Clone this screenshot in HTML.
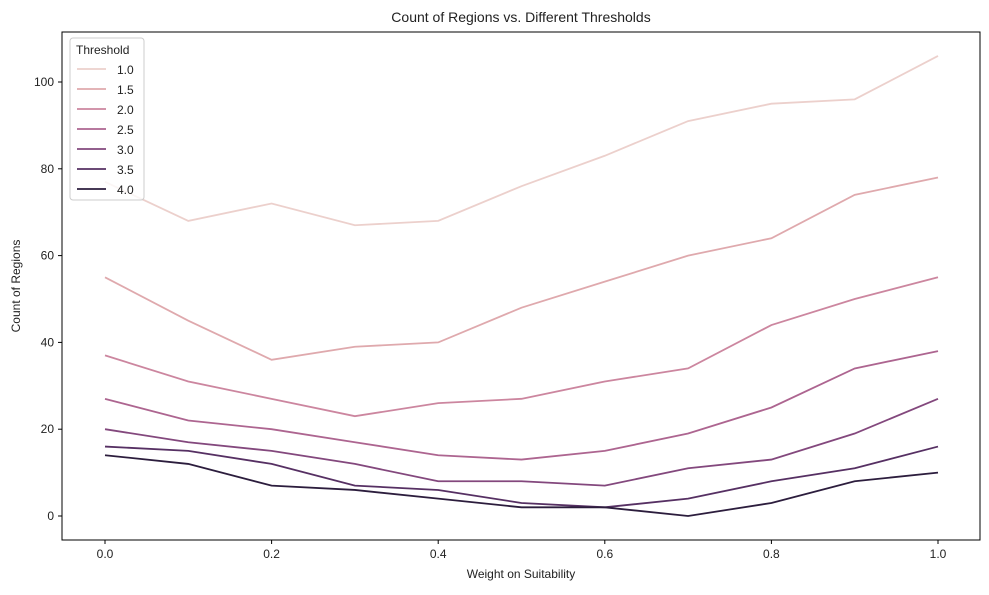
<!DOCTYPE html>
<html><head><meta charset="utf-8"><style>
body{margin:0;background:#fff;font-family:"Liberation Sans","Noto Sans CJK KR",sans-serif;}
svg text{font-family:"Liberation Sans","Noto Sans CJK KR",sans-serif;fill:#222;}
</style></head><body>
<svg id="chart" width="989" height="590" xmlns="http://www.w3.org/2000/svg"></svg>
<script>
const xValues=[0,0.1,0.2,0.3,0.4,0.5,0.6,0.7,0.8,0.9,1.0];
const thresholds=["1.0","1.5","2.0","2.5","3.0","3.5","4.0"];
const s10=[77,68,72,67,68,76,83,91,95,96,106];
const s15=[55,45,36,39,40,48,54,60,64,74,78];
const s20=[37,31,27,23,26,27,31,34,44,50,55];
const s25=[27,22,20,17,14,13,15,19,25,34,38];
const s30=[20,17,15,12,8,8,7,11,13,19,27];
const s35=[16,15,12,7,6,3,2,4,8,11,16];
const s40=[14,12,7,6,4,2,2,0,3,8,10];
const seriesList=[s10,s15,s20,s25,s30,s35,s40];
const colors=["#ecd0cc","#dfa9ad","#cc869f","#ad6590","#83487d","#563063","#2c1d3d"];
const xTicks=[0,0.2,0.4,0.6,0.8,1.0];
const yTicks=[0,20,40,60,80,100];
const svg=document.getElementById('chart');
const NS="http://www.w3.org/2000/svg";
const L=62,R=980,T=32,B=540;
const xs=v=>105+v*833;
const ys=v=>516-v*4.34;
function mk(tag,attrs,parent){const e=document.createElementNS(NS,tag);for(const k in attrs)e.setAttribute(k,attrs[k]);(parent||svg).appendChild(e);return e;}
const frame=mk('rect',{x:L,y:T,width:R-L,height:B-T,fill:'none',stroke:'#000','stroke-width':1});


xTicks.forEach(v=>{
  const t=mk('line',{x1:xs(v),x2:xs(v),y1:B,y2:B+4,stroke:'#000'});
  
  
  const l=mk('text',{x:xs(v),y:B+18,'text-anchor':'middle','font-size':12});
  l.textContent=v.toFixed(1);
  
  
});
yTicks.forEach(v=>{
  const t=mk('line',{x1:L-4,x2:L,y1:ys(v),y2:ys(v),stroke:'#000'});
  
  
  const l=mk('text',{x:L-8,y:ys(v)+4,'text-anchor':'end','font-size':12});
  l.textContent=v;
  
  
});
seriesList.forEach((s,i)=>{
  const p=mk('polyline',{points:s.map((v,j)=>xs(xValues[j])+','+ys(v)).join(' '),fill:'none',stroke:colors[i],'stroke-width':1.8});
  
  
});
const title=mk('text',{x:521,y:22,'text-anchor':'middle','font-size':14});
title.textContent="Count of Regions vs. Different Thresholds";


const xt=mk('text',{x:521,y:578,'text-anchor':'middle','font-size':12});
xt.textContent="Weight on Suitability";


const yt=mk('text',{x:20,y:286,'text-anchor':'middle','font-size':12,transform:'rotate(-90 20 286)'});
yt.textContent="Count of Regions";


const lg=mk('g',{});


mk('rect',{x:70,y:38,width:74,height:162,rx:3,fill:'#fff','fill-opacity':0.8,stroke:'#ccc'},lg);
const lt=mk('text',{x:76,y:54,'font-size':12},lg);
lt.textContent="Threshold";
thresholds.forEach((th,i)=>{
  const y=69+i*20;
  const e=mk('g',{},lg);
  
  
  mk('line',{x1:77,x2:106,y1:y,y2:y,stroke:colors[i],'stroke-width':1.8},e);
  const tx=mk('text',{x:117,y:y+5,'font-size':12},e);
  tx.textContent=th;
});
</script>
</body></html>
